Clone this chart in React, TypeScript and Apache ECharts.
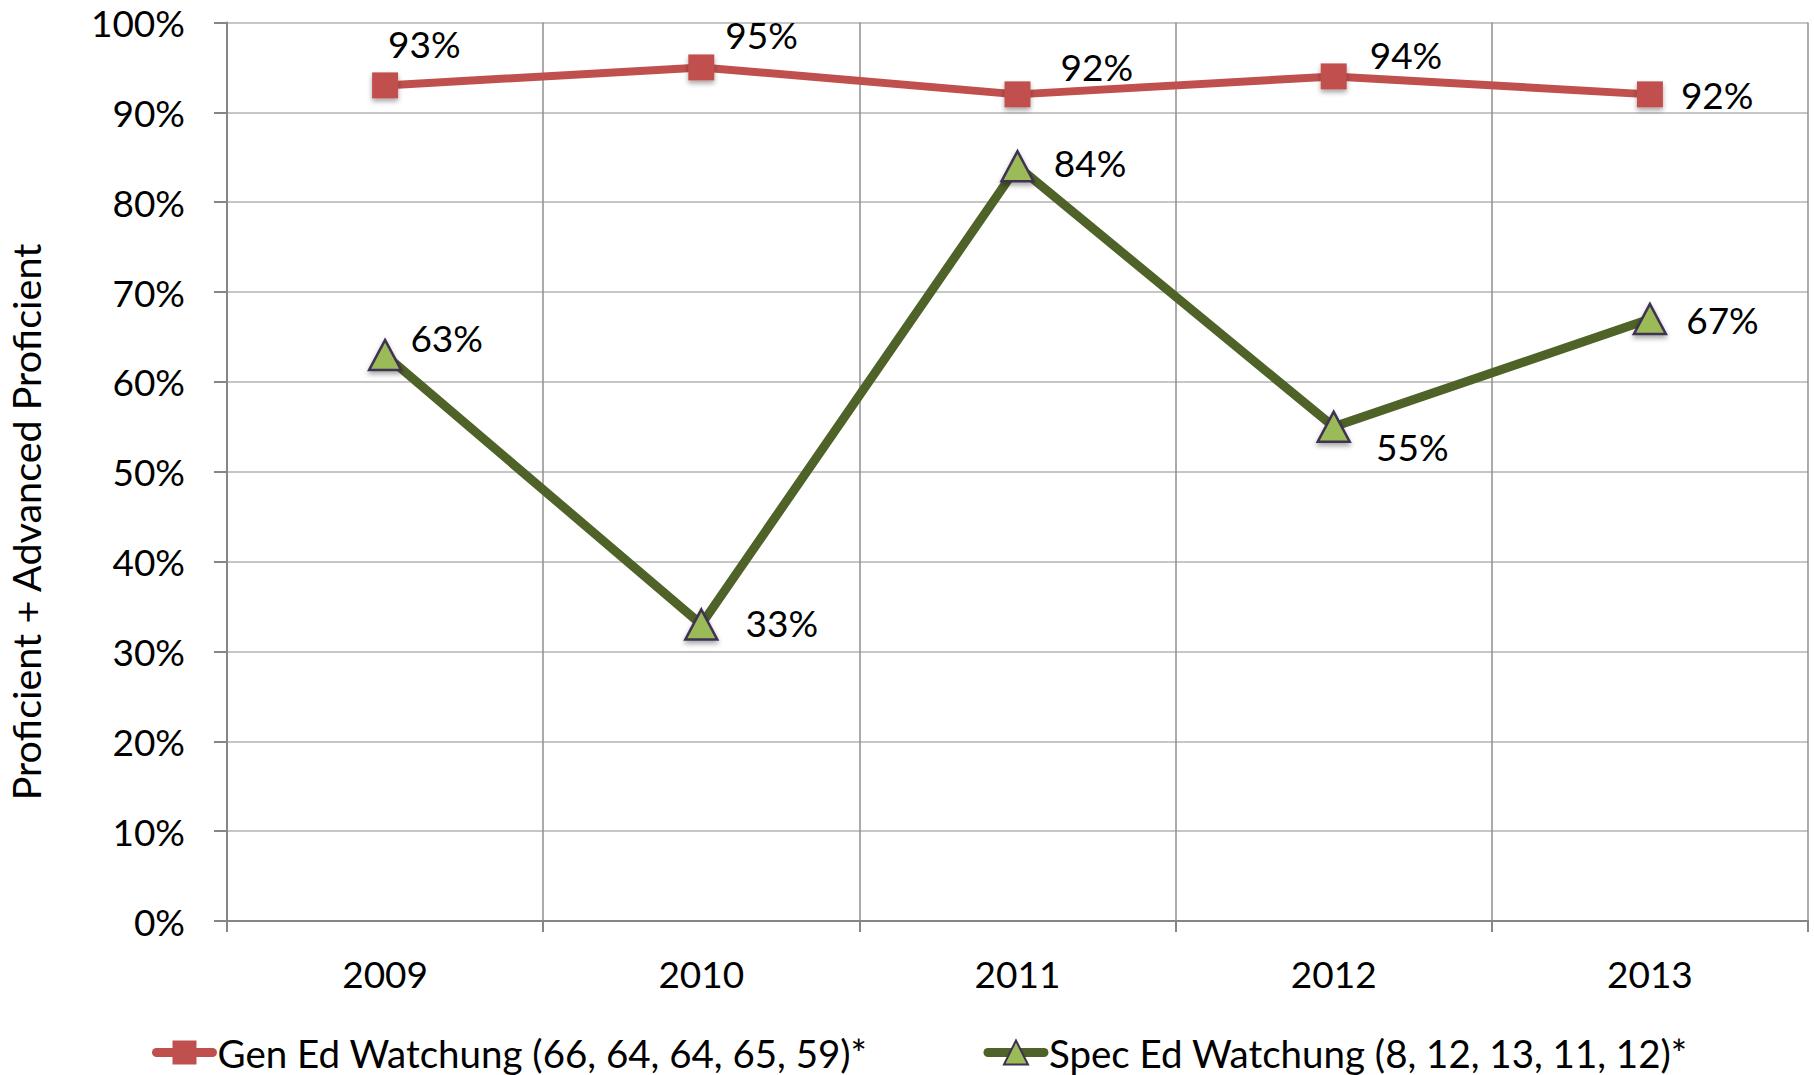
import React, { useEffect, useRef } from "react";
import * as echarts from "echarts";

const years = ["2009", "2010", "2011", "2012", "2013"];
const genEd = [93, 95, 92, 94, 92];
const specEd = [63, 33, 84, 55, 67];
const genName = "Gen Ed Watchung (66, 64, 64, 65, 59)*";
const specName = "Spec Ed Watchung (8, 12, 13, 11, 12)*";
const yAxisTitle = "Proficient + Advanced Proficient";

// label offsets (layout only)
const genOffsets = [[-15, -42], [6, -33], [25, -28], [18, -22], [13, 0]];
const specOffsets = [[3, -17], [22, -2], [14, -4], [20, 20], [14, 0]];

const FONT = "Lato";
const FS = 37;

export default function App() {
  const ref = useRef<HTMLDivElement>(null);
  useEffect(() => {
    if (!ref.current) return;
    const chart = echarts.init(ref.current, null, { renderer: "svg" });
    const labelBase = {
      show: true,
      position: "right" as const,
      distance: 5,
      fontFamily: FONT,
      fontSize: FS,
      color: "#000",
      formatter: "{c}%",
    };
    chart.setOption({
      animation: false,
      backgroundColor: "#fff",
      textStyle: { fontFamily: FONT },
      grid: { left: 227, right: 6, top: 22.5, bottom: 154, containLabel: false },
      xAxis: {
        type: "category",
        data: years,
        boundaryGap: true,
        axisLine: { show: true, lineStyle: { color: "#868686", width: 2 } },
        axisTick: { show: true, length: 11, lineStyle: { color: "#868686", width: 2 } },
        axisLabel: { fontFamily: FONT, fontSize: FS, color: "#000", margin: 34 },
        splitLine: { show: true, lineStyle: { color: "#8f8f8f", width: 1.5 } },
      },
      yAxis: {
        type: "value",
        min: 0,
        max: 100,
        interval: 10,
        axisLine: { show: true, lineStyle: { color: "#868686", width: 2 } },
        axisTick: { show: true, length: 13, lineStyle: { color: "#868686", width: 2 } },
        axisLabel: { fontFamily: FONT, fontSize: FS, color: "#000", margin: 42, formatter: "{value}%" },
        splitLine: { show: true, lineStyle: { color: "#c6c6c6", width: 2 } },
      },
      legend: {
        left: 147,
        top: 1028,
        itemWidth: 56,
        itemHeight: 30,
        itemGap: 116,
        textStyle: { fontFamily: FONT, fontSize: 38.5, color: "#000" },
        data: [
          { name: genName, lineStyle: { width: 9, cap: "round" } },
          { name: specName, lineStyle: { width: 9, cap: "round" } },
        ],
      },
      graphic: [
        {
          type: "text",
          x: 25,
          y: 522,
          rotation: Math.PI / 2,
          style: {
            text: yAxisTitle,
            fontFamily: FONT,
            fontSize: 39.5,
            fill: "#000",
            align: "center",
            verticalAlign: "middle",
          },
        },
      ],
      series: [
        {
          name: genName,
          type: "line",
          data: genEd.map((v, i) => ({
            value: v,
            label: { ...labelBase, offset: genOffsets[i] },
          })),
          symbol: "rect",
          symbolSize: 26,
          lineStyle: { color: "#C0504D", width: 8 },
          itemStyle: {
            color: "#C0504D",
            shadowColor: "rgba(0,0,0,0.35)",
            shadowBlur: 5,
            shadowOffsetY: 3,
          },
          z: 3,
        },
        {
          name: specName,
          type: "line",
          data: specEd.map((v, i) => ({
            value: v,
            label: { ...labelBase, offset: specOffsets[i] },
          })),
          symbol: "triangle",
          symbolSize: [32, 30],
          lineStyle: { color: "#4F6228", width: 9 },
          itemStyle: {
            color: "#9BBB59",
            borderColor: "#3F3151",
            borderWidth: 2.5,
            shadowColor: "rgba(0,0,0,0.35)",
            shadowBlur: 5,
            shadowOffsetY: 3,
          },
          z: 3,
        },
      ],
    });
    return () => chart.dispose();
  }, []);
  return (
    <div
      ref={ref}
      style={{ position: "fixed", left: 0, top: 0, width: 1814, height: 1075, background: "#fff" }}
    />
  );
}
